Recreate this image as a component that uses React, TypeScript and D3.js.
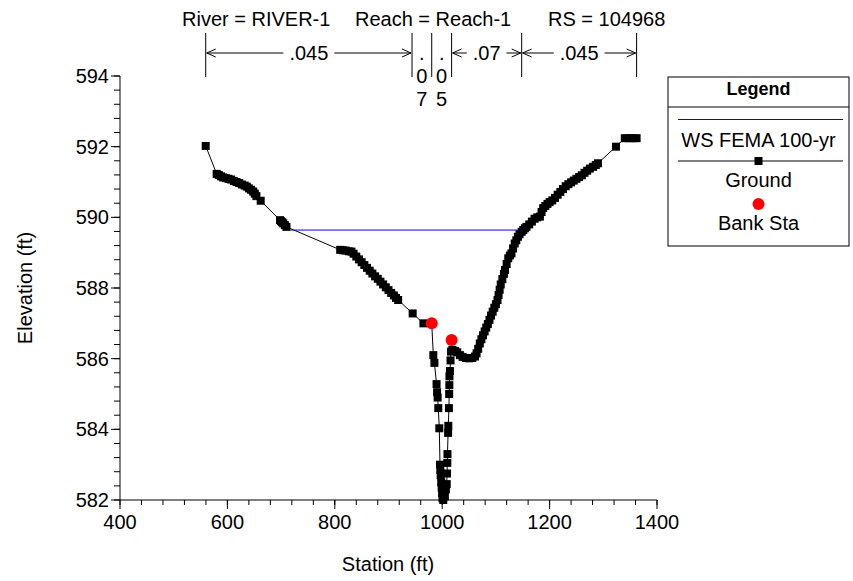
import React from "react";
import * as d3 from "d3";

const groundSta: number[] = [
  559.6, 580, 584, 588, 592, 597, 602, 607, 612, 617, 622, 627, 632, 636, 640, 644, 648, 651, 654, 662,
  698, 700, 702, 704, 707, 710,
  810, 815, 820, 826, 831, 835, 840, 845, 850, 855, 860, 865, 870, 875, 880, 885, 890, 895, 900, 905, 910, 914, 918,
  945, 965, 980.5,
  983.5, 985.5, 989.5, 990.5, 991.5, 992.7, 994.6, 995.9, 996.5, 997.2, 998.2, 999, 999.8, 1000.5, 1002,
  1005, 1007, 1008.4, 1009, 1009.5, 1009.8, 1011, 1011.4, 1012.5, 1013, 1013.3, 1013.5, 1014.5, 1015.5, 1016.5, 1017.5,
  1019, 1024, 1028, 1033, 1038, 1044, 1050, 1056, 1061, 1064, 1067, 1070, 1073, 1076, 1079, 1082, 1085, 1088, 1091, 1094,
  1097, 1100, 1103, 1105, 1107, 1109, 1112, 1115, 1117, 1120, 1123, 1126, 1129, 1132, 1135, 1138, 1141, 1144, 1148, 1151,
  1154, 1157, 1162, 1167, 1172, 1177, 1182, 1185, 1188, 1192, 1196, 1200, 1205, 1210, 1215, 1220, 1225, 1230, 1235, 1240,
  1245, 1250, 1255, 1260, 1265, 1270, 1275, 1281, 1286, 1290, 1323.6, 1340, 1348, 1355, 1362,
];
const groundElev: number[] = [
  592.02, 591.23, 591.2, 591.16, 591.13, 591.11, 591.09, 591.07, 591.03, 591.0, 590.97, 590.93, 590.9, 590.87, 590.82, 590.78, 590.73, 590.67, 590.6, 590.47,
  589.92, 589.89, 589.86, 589.83, 589.78, 589.73,
  589.08, 589.07, 589.06, 589.04, 589.03, 588.97, 588.89, 588.81, 588.73, 588.65, 588.57, 588.49, 588.41, 588.33, 588.26, 588.18, 588.1, 588.02, 587.94, 587.86, 587.79, 587.72, 587.66,
  587.28, 587.0, 587.0,
  586.1, 585.88, 585.28, 585.05, 584.9, 584.6, 584.03, 583.0, 582.85, 582.7, 582.5, 582.35, 582.2, 582.05, 582.0,
  582.1, 582.3, 582.45, 582.75, 583.05, 583.3, 583.9, 584.1, 584.6, 585.0, 585.25, 585.5, 585.65, 585.95, 586.2, 586.53,
  586.25, 586.22, 586.18, 586.1, 586.05, 586.02, 586.01, 586.02, 586.06, 586.15, 586.28, 586.43, 586.55, 586.66, 586.77, 586.88, 586.98, 587.1, 587.22, 587.33,
  587.44, 587.54, 587.66, 587.8, 587.95, 588.1, 588.25, 588.4, 588.51, 588.68, 588.84, 588.92, 588.98, 589.12, 589.26, 589.35, 589.45, 589.52, 589.59, 589.64,
  589.69, 589.73, 589.8, 589.88, 589.96, 590.0, 590.02, 590.15, 590.26, 590.32, 590.38, 590.43, 590.48, 590.55, 590.64, 590.72, 590.8, 590.88, 590.94, 590.99,
  591.04, 591.09, 591.14, 591.19, 591.26, 591.32, 591.38, 591.43, 591.48, 591.53, 592.0, 592.24, 592.24, 592.24, 592.24,
];

const bankSta: number[] = [980.5, 1017.5];
const bankElev: number[] = [587.0, 586.53];

const wsSta: number[] = [718, 1152];
const wsElev: number[] = [589.64, 589.64];

const mannBreaks: number[] = [559.6, 943.8, 980.5, 1017.5, 1148, 1362];
const mannN: string[] = [".045", ".07", ".05", ".07", ".045"];

const xTicks: number[] = [400, 600, 800, 1000, 1200, 1400];
const yTicks: number[] = [582, 584, 586, 588, 590, 592, 594];

const title = { river: "River = RIVER-1", reach: "Reach = Reach-1", rs: "RS = 104968" };
const legendItems: string[] = ["WS FEMA 100-yr", "Ground", "Bank Sta"];

const FONT = "'Liberation Sans', Arial, sans-serif";

export default function App() {
  const x = d3.scaleLinear().domain([400, 1400]).range([120, 657]);
  const y = d3.scaleLinear().domain([582, 594]).range([500, 76]);

  const groundPts: [number, number][] = groundSta.map((s, i) => [s, groundElev[i]]);
  const line = d3
    .line<[number, number]>()
    .x((d) => x(d[0]))
    .y((d) => y(d[1]));

  const xMinor = d3.range(400, 1400.001, 40);
  const yMinor = d3.range(0, 31).map((i) => 582 + i * 0.4);

  const mannY = 53;
  const mannEls: React.ReactNode[] = [];
  mannBreaks.forEach((b, i) => {
    mannEls.push(
      <line key={"mb" + i} x1={x(b)} x2={x(b)} y1={33} y2={77} stroke="#000" strokeWidth={1} />
    );
  });
  mannN.forEach((n, i) => {
    const x0 = x(mannBreaks[i]);
    const x1 = x(mannBreaks[i + 1]);
    const mid = (x0 + x1) / 2;
    const w = x1 - x0;
    if (w < 45) {
      n.split("").forEach((ch, k) => {
        mannEls.push(
          <text key={"mt" + i + "_" + k} x={mid} y={60 + k * 23} textAnchor="middle" fontSize={20} fontFamily={FONT}>
            {ch}
          </text>
        );
      });
    } else {
      const hw = n.length * 5.6 - 1;
      const a = mid - hw - 4;
      const c = mid + hw + 4;
      mannEls.push(
        <text key={"mt" + i} x={mid} y={mannY + 7} textAnchor="middle" fontSize={20} fontFamily={FONT}>
          {n}
        </text>
      );
      mannEls.push(
        <path
          key={"ma" + i}
          d={`M${x0 + 1},${mannY}H${a}M${c},${mannY}H${x1 - 1}M${x0 + 10},${mannY - 4}L${x0 + 1},${mannY}L${x0 + 10},${mannY + 4}M${x1 - 10},${mannY - 4}L${x1 - 1},${mannY}L${x1 - 10},${mannY + 4}`}
          stroke="#000"
          strokeWidth={1}
          fill="none"
        />
      );
    }
  });

  const lgX0 = 668;
  const lgX1 = 849;
  const lgMid = (lgX0 + lgX1) / 2;

  return (
    <svg
      width={853}
      height={581}
      style={{ position: "absolute", left: 0, top: 0, background: "#fff" }}
      fontFamily={FONT}
    >
      <rect x={0} y={0} width={853} height={581} fill="#fff" />
      <text x={182} y={26} fontSize={20}>{title.river}</text>
      <text x={355} y={26} fontSize={20}>{title.reach}</text>
      <text x={548} y={26} fontSize={20}>{title.rs}</text>
      {mannEls}

      <line x1={120} x2={657} y1={500} y2={500} stroke="#000" />
      <line x1={120} x2={120} y1={76} y2={500} stroke="#000" />
      {xMinor.map((t) => (
        <line key={"xm" + t} x1={x(t)} x2={x(t)} y1={500} y2={505} stroke="#000" />
      ))}
      {xTicks.map((t) => (
        <g key={"xt" + t}>
          <line x1={x(t)} x2={x(t)} y1={500} y2={509} stroke="#000" />
          <text x={x(t)} y={529} textAnchor="middle" fontSize={20}>{t}</text>
        </g>
      ))}
      {yMinor.map((t, i) => (
        <line key={"ym" + i} x1={114} x2={120} y1={y(t)} y2={y(t)} stroke="#000" />
      ))}
      {yTicks.map((t) => (
        <g key={"yt" + t}>
          <line x1={111} x2={120} y1={y(t)} y2={y(t)} stroke="#000" />
          <text x={109} y={y(t) + 7} textAnchor="end" fontSize={20}>{t}</text>
        </g>
      ))}
      <text x={388} y={571} textAnchor="middle" fontSize={20}>Station (ft)</text>
      <text
        transform={`translate(32,${(76 + 500) / 2}) rotate(-90)`}
        textAnchor="middle"
        fontSize={20}
      >
        Elevation (ft)
      </text>

      <line x1={x(wsSta[0])} x2={x(wsSta[1])} y1={y(wsElev[0])} y2={y(wsElev[1])} stroke="#0000ff" strokeWidth={1} />

      <path d={line(groundPts) || ""} fill="none" stroke="#000" strokeWidth={1} />
      {groundPts.map((d, i) => (
        <rect key={"g" + i} x={x(d[0]) - 4} y={y(d[1]) - 4} width={8} height={8} fill="#000" />
      ))}
      {bankSta.map((s, i) => (
        <circle key={"b" + i} cx={x(s)} cy={y(bankElev[i])} r={6} fill="#ff0000" />
      ))}

      <rect x={lgX0} y={77} width={lgX1 - lgX0} height={169} fill="#fff" stroke="#000" />
      <line x1={lgX0} x2={lgX1} y1={107} y2={107} stroke="#000" />
      <text x={lgMid} y={95} textAnchor="middle" fontSize={18} fontWeight="bold">Legend</text>
      <line x1={678} x2={843} y1={119.5} y2={119.5} stroke="#0000ff" />
      <text x={lgMid} y={147} textAnchor="middle" fontSize={20}>{legendItems[0]}</text>
      <line x1={678} x2={843} y1={161} y2={161} stroke="#000" />
      <rect x={lgMid - 4} y={157} width={8} height={8} fill="#000" />
      <text x={lgMid} y={187} textAnchor="middle" fontSize={20}>{legendItems[1]}</text>
      <circle cx={lgMid} cy={204} r={6} fill="#ff0000" />
      <text x={lgMid} y={230} textAnchor="middle" fontSize={20}>{legendItems[2]}</text>
    </svg>
  );
}
